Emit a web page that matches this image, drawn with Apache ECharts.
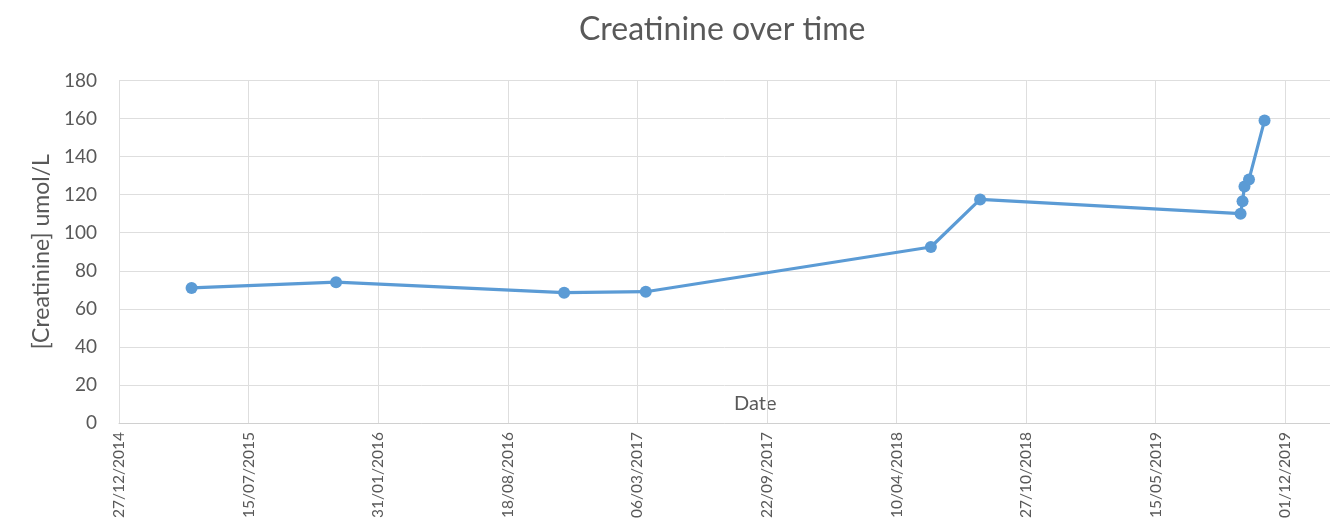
<!DOCTYPE html>
<html>
<head>
<meta charset="utf-8">
<script src="https://cdn.jsdelivr.net/npm/echarts@6/dist/echarts.min.js"></script>
<style>
html,body{margin:0;padding:0;background:#fff;}
#chart{width:1330px;height:522px;}
</style>
</head>
<body>
<div id="chart"></div>
<script>
const dates = ['2015-04-18','2015-11-27','2016-11-13','2017-03-19','2018-06-02','2018-08-17','2019-09-23','2019-09-26','2019-09-29','2019-10-06','2019-10-30'];
const creatinine = [71, 74, 68.5, 69, 92.5, 117.5, 110, 116.5, 124.3, 128, 159];
const titleText = 'Creatinine over time';
const yAxisTitle = '[Creatinine] umol/L';
const xAxisTitle = 'Date';

// Excel-style date serial numbers (days since 1899-12-30)
const EPOCH = Date.UTC(1899, 11, 30);
function toSerial(s) {
  const p = s.split('-').map(Number);
  return Math.round((Date.UTC(p[0], p[1] - 1, p[2]) - EPOCH) / 86400000);
}
function fromSerial(n) {
  const d = new Date(EPOCH + n * 86400000);
  const dd = String(d.getUTCDate()).padStart(2, '0');
  const mm = String(d.getUTCMonth() + 1).padStart(2, '0');
  return dd + '/' + mm + '/' + d.getUTCFullYear();
}
const seriesData = dates.map((d, i) => [toSerial(d), creatinine[i]]);

const FONT = 'Lato, "Open Sans", sans-serif';
const TXT = '#595959';
const chart = echarts.init(document.getElementById('chart'), null, {renderer: 'canvas'});
chart.setOption({
  backgroundColor: '#ffffff',
  animation: false,
  title: {
    text: titleText,
    left: 574,
    top: 9,
    textStyle: {fontFamily: FONT, fontSize: 32, fontWeight: 'normal', color: TXT}
  },
  grid: {left: 119, right: 0, top: 80.5, bottom: 99, containLabel: false, outerBoundsMode: 'none'},
  graphic: [{
    type: 'text',
    left: 734,
    top: 394,
    style: {text: xAxisTitle, fontFamily: FONT, fontSize: 20, fill: TXT}
  }],
  xAxis: {
    type: 'value',
    min: 42000,
    max: 43869,
    interval: 200,
    axisLine: {show: true, lineStyle: {color: '#d0d0d0', width: 1}},
    axisTick: {show: false},
    splitLine: {show: true, lineStyle: {color: '#dedede', width: 1}},
    axisLabel: {
      rotate: 90,
      margin: 9,
      showMaxLabel: false,
      fontFamily: FONT,
      fontSize: 15.5,
      color: TXT,
      formatter: v => ((v - 42000) % 200 === 0 ? fromSerial(v) : '')
    }
  },
  yAxis: {
    type: 'value',
    min: 0,
    max: 180,
    interval: 20,
    name: yAxisTitle,
    nameLocation: 'middle',
    nameGap: 66,
    nameTextStyle: {fontFamily: FONT, fontSize: 23, color: TXT},
    axisLine: {show: false},
    axisTick: {show: false},
    splitLine: {show: true, lineStyle: {color: '#dedede', width: 1}},
    axisLabel: {margin: 22, fontFamily: FONT, fontSize: 19, color: TXT}
  },
  series: [{
    type: 'line',
    data: seriesData,
    symbol: 'circle',
    symbolSize: 12,
    lineStyle: {color: '#5B9BD5', width: 3.2},
    itemStyle: {color: '#5B9BD5'}
  }]
});
</script>
</body>
</html>
